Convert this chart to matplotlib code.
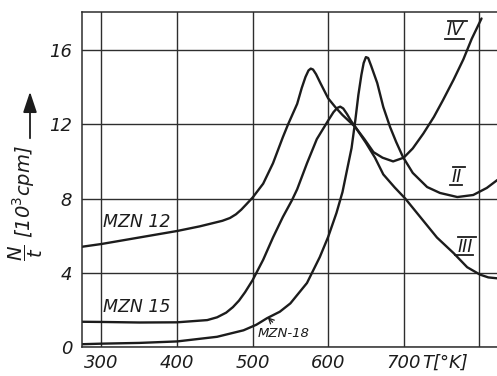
import matplotlib
matplotlib.use("Agg")
import matplotlib.pyplot as plt
from matplotlib.lines import Line2D
from matplotlib.transforms import IdentityTransform

# ---- data ----
T_mzn12 = [274, 300, 350, 400, 430, 460, 470, 478, 485, 492, 500, 514, 527, 540, 547, 559,
           565, 570, 574, 577, 580, 584, 590, 600, 610, 619, 636, 650, 662, 673, 688, 702,
           722, 744, 766, 784, 801, 812, 824]
V_mzn12 = [5.4, 5.55, 5.9, 6.25, 6.5, 6.8, 6.95, 7.15, 7.4, 7.7, 8.05, 8.8, 9.9, 11.3, 12.0, 13.1,
           13.95, 14.55, 14.9, 15.0, 14.95, 14.7, 14.2, 13.4, 12.9, 12.5, 11.85, 11.0, 10.2, 9.3, 8.6, 8.0,
           7.0, 5.9, 5.06, 4.3, 3.9, 3.75, 3.7]

T_mzn15 = [274, 300, 350, 400, 440, 453, 465, 474, 482, 490, 500, 514, 527, 540, 552, 559,
           572, 585, 600, 607, 612, 616, 620, 625, 630, 636, 648, 660, 672, 686, 700, 712, 726,
           740, 752, 766, 779, 790, 803]
V_mzn15 = [1.36, 1.35, 1.32, 1.33, 1.45, 1.6, 1.85, 2.15, 2.5, 2.95, 3.6, 4.7, 5.9, 7.0, 7.9, 8.5,
           9.9, 11.2, 12.2, 12.65, 12.88, 12.95, 12.85, 12.55, 12.2, 11.85, 11.2, 10.5, 10.2, 10.0, 10.2, 10.7, 11.5,
           12.4, 13.3, 14.4, 15.5, 16.6, 17.7]

T_mzn18 = [274, 300, 350, 400, 453, 488, 505, 519, 536, 550, 572, 589, 600, 611, 619,
           625, 631, 636, 640, 644, 647, 650, 653, 657, 665, 673, 682, 690, 699, 712,
           731, 748, 771, 792, 810, 824]
V_mzn18 = [0.15, 0.18, 0.22, 0.3, 0.55, 0.9, 1.2, 1.55, 1.9, 2.35, 3.45, 4.85, 5.93, 7.22, 8.35,
           9.54, 10.72, 12.23, 13.58, 14.66, 15.3, 15.62, 15.57, 15.14, 14.22, 12.93, 11.85, 11.05, 10.24, 9.38,
           8.62, 8.3, 8.08, 8.19, 8.57, 9.0]

x_ticks = [300, 400, 500, 600, 700, 800]
x_ticklabels = ["300", "400", "500", "600", "700", ""]
y_ticks = [0, 4, 8, 12, 16]
y_ticklabels = ["0", "4", "8", "12", "16"]

W, H = 497, 376
fig = plt.figure(figsize=(W / 100, H / 100), dpi=100)
ax = fig.add_axes([82 / W, 1 - 347 / H, (W - 82) / W, (347 - 12) / H])
ax.set_xlim(274.2, 823.5)
ax.set_ylim(0, 18.05)

ink = "#1c1c1c"
for T, V in [(T_mzn12, V_mzn12), (T_mzn15, V_mzn15), (T_mzn18, V_mzn18)]:
    ax.plot(T, V, color=ink, lw=1.7, solid_joinstyle="round", solid_capstyle="round")

ax.set_xticks(x_ticks)
ax.set_xticklabels(x_ticklabels)
ax.set_yticks(y_ticks)
ax.set_yticklabels(y_ticklabels)
ax.tick_params(length=0, labelsize=13, colors=ink)
ax.tick_params(axis="x", pad=5)
ax.tick_params(axis="y", pad=7)
for lab in ax.get_xticklabels() + ax.get_yticklabels():
    lab.set_fontstyle("italic")
ax.grid(True, color="#2e2e2e", lw=1.0)
for s in ["left", "bottom", "top"]:
    ax.spines[s].set_color("#2e2e2e")
    ax.spines[s].set_linewidth(1.1)
ax.spines["right"].set_visible(False)

# x-axis unit label next to "700"
ax.annotate("T[°K]", xy=(725, 0), xycoords=("data", "axes fraction"),
            xytext=(0, -5), textcoords="offset points", ha="left", va="top",
            fontsize=13, style="italic", color=ink)

# y-axis label with arrow
fig.text(26 / W, 1 - 203 / H, r"$\dfrac{N}{t}$ [10$^{3}$cpm]", rotation=90,
         ha="center", va="center", fontsize=14, style="italic", color=ink)
fig.patches.append(matplotlib.patches.FancyArrowPatch(
    (30 / W, 1 - 141 / H), (30 / W, 1 - 89 / H), transform=fig.transFigure,
    arrowstyle="-|>,head_length=0.9,head_width=0.3", mutation_scale=14,
    color=ink, lw=1.3))

# curve labels
ax.text(302, 6.76, "MZN 12", ha="left", va="center", fontsize=12.5, style="italic", color=ink)
ax.text(302, 2.18, "MZN 15", ha="left", va="center", fontsize=12.5, style="italic", color=ink)
ax.annotate("MZN-18", xy=(520, 1.6), xytext=(507, 0.73), ha="left", va="center",
            fontsize=9.5, style="italic", color=ink,
            arrowprops=dict(arrowstyle="->", color=ink, lw=0.9, shrinkA=2, shrinkB=0))

romans = []
for txt, tx, vy in [("IV", 768, 17.08), ("II", 770.5, 9.16), ("III", 781, 5.39)]:
    romans.append(ax.text(tx, vy, txt, ha="center", va="center", fontsize=12.5,
                          style="italic", color=ink))

fig.canvas.draw()
r = fig.canvas.get_renderer()
for t in romans:
    bb = t.get_window_extent(r)
    for yy, dx in [(bb.y1 + 0.5, 2), (bb.y0 + 0.5, -1)]:
        fig.add_artist(Line2D([bb.x0 + dx - 1, bb.x1 + dx + 1], [yy, yy],
                              transform=IdentityTransform(), color=ink, lw=1.3))

fig.savefig("out.png", dpi=100, facecolor="white")
